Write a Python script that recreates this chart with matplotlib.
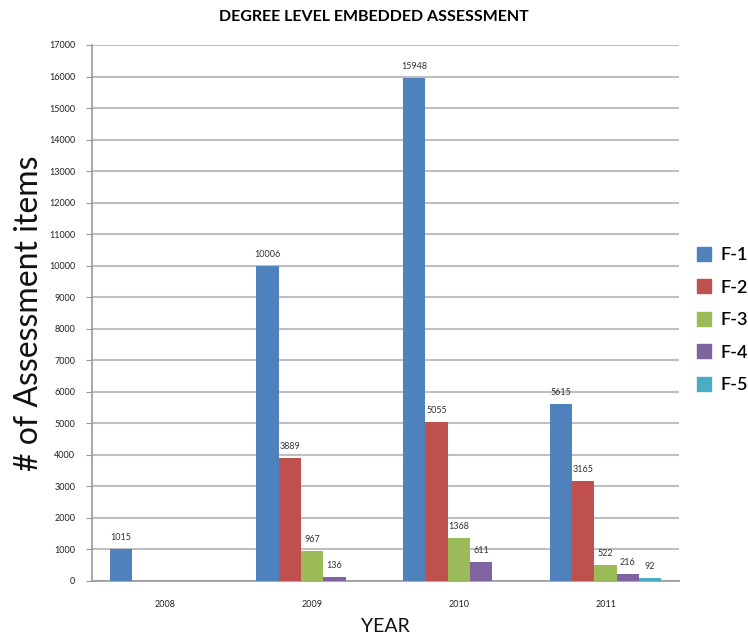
import numpy as np
import matplotlib
matplotlib.use("Agg")
import matplotlib.pyplot as plt
from matplotlib.patches import Patch

years = ["2008", "2009", "2010", "2011"]
series_names = ["F-1", "F-2", "F-3", "F-4", "F-5"]
f1 = [1015, 10006, 15948, 5615]
f2 = [np.nan, 3889, 5055, 3165]
f3 = [np.nan, 967, 1368, 522]
f4 = [np.nan, 136, 611, 216]
f5 = [np.nan, np.nan, np.nan, 92]
colors = ["#4F81BD", "#C0504D", "#9BBB59", "#8064A2", "#4BACC6"]

plt.rcParams["font.family"] = ["Lato", "DejaVu Sans"]

fig = plt.figure(figsize=(7.48, 6.39), dpi=100)
ax = fig.add_axes([92 / 748, 1 - 581 / 639, 587 / 748, 536 / 639])

x = np.arange(len(years))
n = len(series_names)
bar_w = 0.152
series = [f1, f2, f3, f4, f5]
for i, (vals, col) in enumerate(zip(series, colors)):
    pos = x + (i - (n - 1) / 2) * bar_w
    v = np.array(vals, dtype=float)
    ax.bar(pos, np.nan_to_num(v), width=bar_w, color=col, zorder=3)
    for p, val in zip(pos, v):
        if not np.isnan(val):
            ax.annotate(f"{int(val)}", (p, val), xytext=(0, 5),
                        textcoords="offset points", ha="center", va="bottom",
                        fontsize=6.5, color="#333333")

ax.set_xlim(-0.5, len(years) - 0.5)
ax.set_ylim(0, 17000)
ax.set_yticks(np.arange(0, 17001, 1000))
ax.set_xticks(x)
ax.set_xticklabels(years)
ax.tick_params(axis="y", length=4, color="#999999", labelsize=6.5, pad=8,
               labelcolor="#222222")
ax.tick_params(axis="x", length=0, labelsize=6.5, pad=14, labelcolor="#222222")
ax.grid(axis="y", color="#BFBFBF", linewidth=1.5, zorder=0)
for s in ["top", "right"]:
    ax.spines[s].set_visible(False)
for s in ["left", "bottom"]:
    ax.spines[s].set_color("#999999")
    ax.spines[s].set_linewidth(1.2)

ax.set_ylabel("# of Assessment items", fontsize=23, labelpad=4,
              color="#111111")
ax.set_xlabel("YEAR", fontsize=14, labelpad=6, color="#111111")
fig.text(0.5, 1 - 17 / 639, "DEGREE LEVEL EMBEDDED ASSESSMENT",
         ha="center", va="center", fontsize=11.5, fontweight="bold")

handles = [Patch(facecolor=c, edgecolor=c) for c in colors]
leg = fig.legend(handles, series_names, loc="center left",
                 bbox_to_anchor=(697 / 748, 1 - 320 / 639),
                 bbox_transform=fig.transFigure, frameon=False,
                 borderpad=0, borderaxespad=0,
                 prop={"size": 13, "weight": "semibold"},
                 handlelength=0.8, handleheight=0.8,
                 labelspacing=0.9, handletextpad=0.5)

fig.savefig("out.png", dpi=100)
